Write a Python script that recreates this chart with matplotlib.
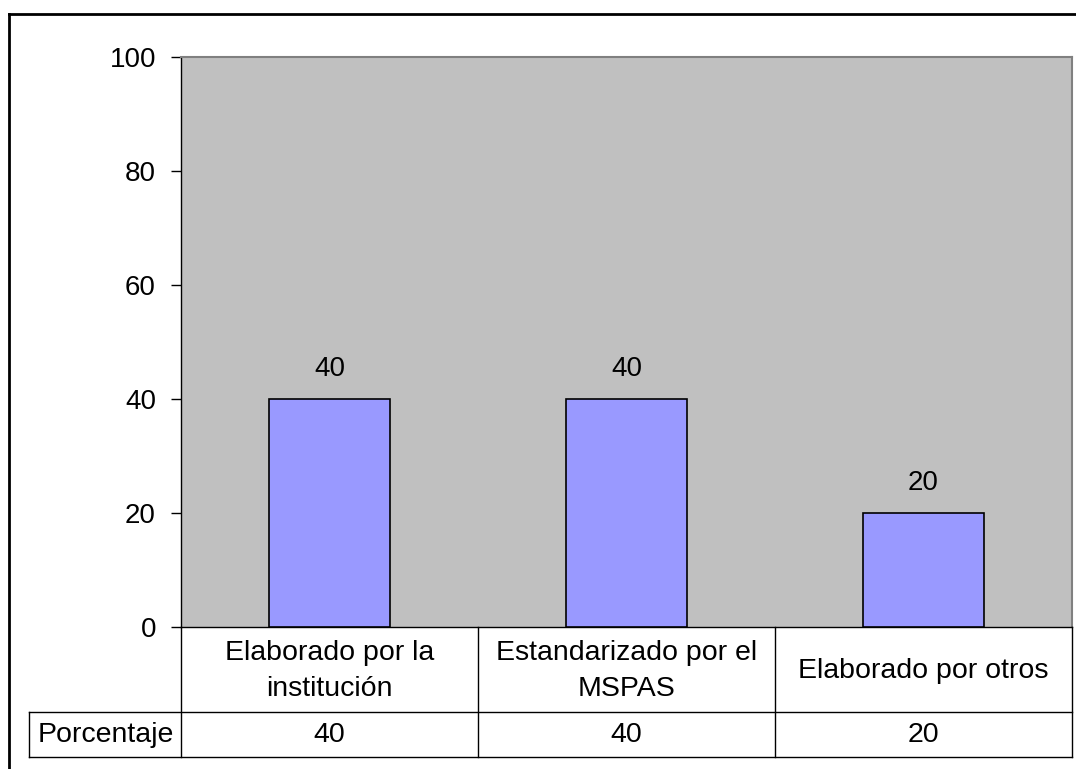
import matplotlib
matplotlib.use("Agg")
import matplotlib.pyplot as plt
from matplotlib.lines import Line2D

categories = ["Elaborado por la\ninstitución", "Estandarizado por el\nMSPAS", "Elaborado por otros"]
values = [40, 40, 20]
row_label = "Porcentaje"
yticks = [0, 20, 40, 60, 80, 100]

plt.rcParams['font.family'] = ['Liberation Sans', 'DejaVu Sans']

W, H = 1076, 769
fig = plt.figure(figsize=(W / 100, H / 100), dpi=100)
fig.patch.set_facecolor('white')

def fx(px):
    return px / W

def fy(py):
    return 1 - py / H

L, R, T, B = 181, 1072, 57, 627
ax = fig.add_axes([fx(L), fy(B), fx(R - L), (B - T) / H])
ax.set_facecolor('#C0C0C0')
x = list(range(len(values)))
ax.bar(x, values, width=0.41, color='#9999FF', edgecolor='black', linewidth=1.2, zorder=3)
for xi, v in zip(x, values):
    ax.text(xi, v + 3, f"{v}", ha='center', va='bottom', fontsize=20, color='black')
ax.set_xlim(-0.5, len(values) - 0.5)
ax.set_ylim(0, 100)
ax.set_yticks(yticks)
ax.set_yticklabels([str(t) for t in yticks], fontsize=20)
ax.tick_params(axis='y', direction='out', length=7, width=1, pad=11, colors='black')
ax.set_xticks([])
for s in ['top', 'right']:
    ax.spines[s].set_color('#808080')
    ax.spines[s].set_linewidth(1.5)
ax.spines['left'].set_color('black')
ax.spines['bottom'].set_color('black')
ax.spines['left'].set_linewidth(1)
ax.spines['bottom'].set_linewidth(1)

# table
row1, row2 = 712, 757
left_tab = 29
colw = (R - L) / len(values)
lines = []
lines.append(([fx(left_tab), fx(R)], [fy(row1), fy(row1)]))
lines.append(([fx(left_tab), fx(R)], [fy(row2), fy(row2)]))
lines.append(([fx(left_tab), fx(left_tab)], [fy(row1), fy(row2)]))
for i in range(len(values) + 1):
    xp = L + i * colw
    lines.append(([fx(xp), fx(xp)], [fy(B), fy(row2)]))
for xs, ys in lines:
    fig.add_artist(Line2D(xs, ys, color='black', linewidth=1))

fs_tab = 20.5
for i, (c, v) in enumerate(zip(categories, values)):
    cx = L + (i + 0.5) * colw
    fig.text(fx(cx), fy((B + row1) / 2 + 1), c, ha='center', va='center', fontsize=fs_tab,
             linespacing=1.5)
    fig.text(fx(cx), fy((row1 + row2) / 2 + 1), str(v), ha='center', va='center', fontsize=fs_tab)
fig.text(fx((left_tab + L) / 2 + 1), fy((row1 + row2) / 2 + 1), row_label, ha='center', va='center', fontsize=fs_tab)

# outer frame (left and top visible)
fig.add_artist(Line2D([fx(9), fx(9)], [fy(14), 0], color='black', linewidth=2))
fig.add_artist(Line2D([fx(9), 1], [fy(14), fy(14)], color='black', linewidth=2))

fig.savefig('out.png', dpi=100)
